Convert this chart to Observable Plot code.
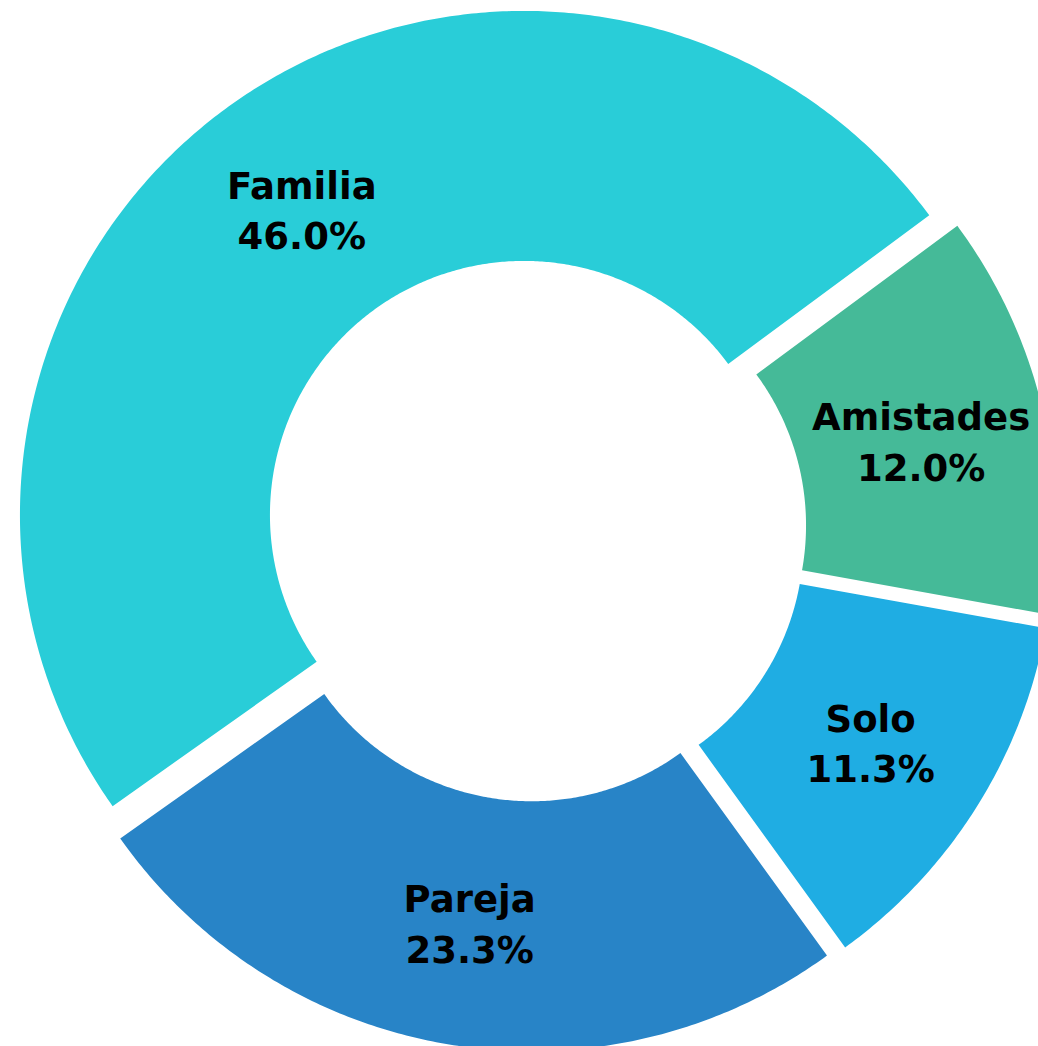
<!DOCTYPE html>
<html>
<head>
<meta charset="utf-8">
<script src="https://cdn.jsdelivr.net/npm/d3@7"></script>
<script src="https://cdn.jsdelivr.net/npm/@observablehq/plot@0.6"></script>
<style>
  html, body { margin: 0; padding: 0; background: #fff; overflow: hidden; }
  #chart svg { display: block; }
</style>
</head>
<body>
<div id="chart"></div>
<script>
// Data
const categories = ["Familia", "Amistades", "Solo", "Pareja"];
const values = [46.0, 12.0, 11.3, 23.3];
const colors = ["#29CDD8", "#45BA98", "#1FADE3", "#2884C7"];

// Layout
const W = 1038, H = 1046;
const cx = 534, cy = 529;          // centre in pixels
const R = 504, r = 254;            // outer / inner radius
const explode = 18;                // slice offset
const startDeg = 234.7;

const rad = Math.PI / 180;
const pie = d3.pie().sort(null).value(d => d.value)
  .startAngle(startDeg * rad).endAngle(startDeg * rad + 2 * Math.PI);
const slices = pie(categories.map((c, i) => ({cat: c, value: values[i]})));

// Build polygon points for each slice (data-space: offset from centre, y up)
const pts = [];
const labels = [];
for (const s of slices) {
  const mid = (s.startAngle + s.endAngle) / 2;
  const ox = explode * Math.sin(mid), oy = explode * Math.cos(mid);
  const n = Math.max(8, Math.ceil((s.endAngle - s.startAngle) / rad * 2));
  for (let k = 0; k <= n; k++) {
    const a = s.startAngle + (s.endAngle - s.startAngle) * k / n;
    pts.push({cat: s.data.cat, x: ox + R * Math.sin(a), y: oy + R * Math.cos(a)});
  }
  for (let k = n; k >= 0; k--) {
    const a = s.startAngle + (s.endAngle - s.startAngle) * k / n;
    pts.push({cat: s.data.cat, x: ox + r * Math.sin(a), y: oy + r * Math.cos(a)});
  }
  const rm = (R + r) / 2;
  labels.push({
    cat: s.data.cat,
    x: ox + rm * Math.sin(mid),
    y: oy + rm * Math.cos(mid),
    text: `${s.data.cat}\n${s.data.value.toFixed(1)}%`
  });
}

const chart = Plot.plot({
  width: W,
  height: H,
  margin: 0,
  x: {domain: [-cx, W - cx], axis: null},
  y: {domain: [cy - H, cy], axis: null},
  color: {domain: categories, range: colors},
  marks: [
    Plot.line(pts, {x: "x", y: "y", z: "cat", fill: "cat", stroke: null, curve: "linear-closed"}),
    Plot.text(labels, {
      x: "x", y: "y", text: "text",
      fontSize: 37, fontWeight: "bold", fill: "#000",
      lineHeight: 1.37,
      fontFamily: "'DejaVu Sans', Verdana, sans-serif"
    })
  ]
});
document.getElementById("chart").appendChild(chart);
</script>
</body>
</html>
